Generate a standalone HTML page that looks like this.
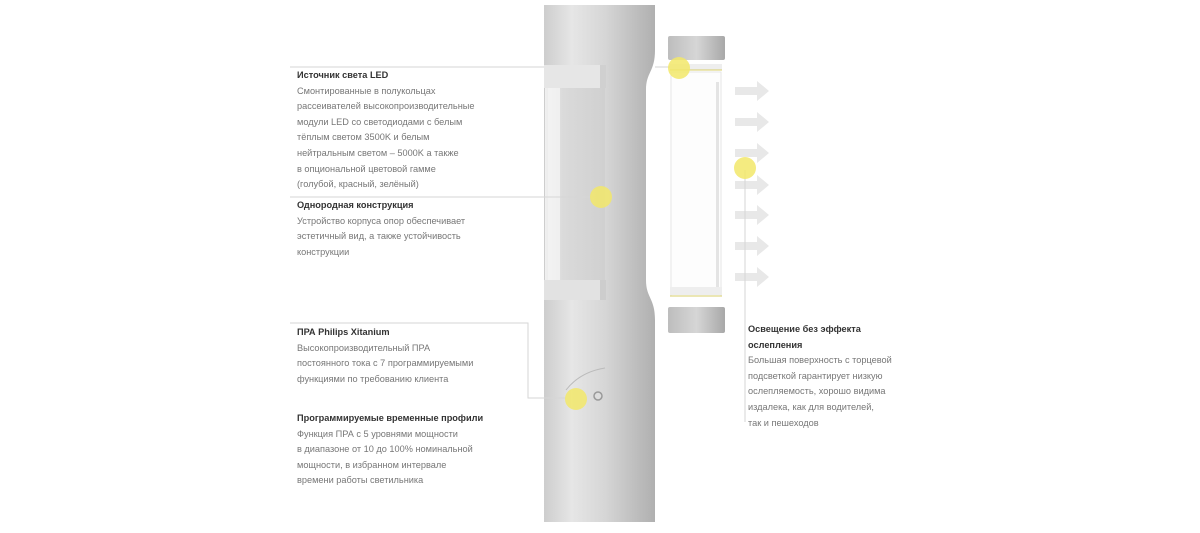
<!DOCTYPE html>
<html><head><meta charset="utf-8"><style>
html,body{margin:0;padding:0;background:#fff;width:1200px;height:533px;overflow:hidden;position:relative;font-family:"Liberation Sans","DejaVu Sans",sans-serif}
.t{position:absolute;font-size:9.2px;line-height:15.6px;color:#777;white-space:nowrap}
.t b{color:#333;font-weight:bold}
svg{position:absolute;left:0;top:0}
</style></head><body>
<svg width="1200" height="533" viewBox="0 0 1200 533">
<defs>
<linearGradient id="pole" x1="0" x2="1">
<stop offset="0" stop-color="#cdcdcd"/><stop offset="0.25" stop-color="#e6e6e6"/><stop offset="0.55" stop-color="#d6d6d6"/><stop offset="0.85" stop-color="#bcbcbc"/><stop offset="1" stop-color="#b0b0b0"/>
</linearGradient>
<linearGradient id="cap" x1="0" x2="1">
<stop offset="0" stop-color="#bdbdbd"/><stop offset="0.5" stop-color="#d6d6d6"/><stop offset="1" stop-color="#a8a8a8"/>
</linearGradient>
<linearGradient id="win" x1="0" x2="1">
<stop offset="0" stop-color="#f0f0f0"/><stop offset="0.3" stop-color="#dadada"/><stop offset="1" stop-color="#d0d0d0"/>
</linearGradient>
</defs>
<path d="M546 5 L655 5 L655 50 C655 72 646 72 646 90 L646 280 C646 298 655 298 655 320 L655 522 L544 522 L544 5 Z" fill="url(#pole)"/>
<rect x="544" y="65" width="56" height="23" fill="#e6e6e6"/>
<rect x="600" y="65" width="6" height="23" fill="#d0d0d0"/>
<rect x="545" y="88" width="60" height="194" fill="url(#win)"/>
<rect x="548" y="88" width="12" height="194" fill="#f4f4f4" opacity="0.8"/>
<rect x="544" y="280" width="56" height="20" fill="#e2e2e2"/>
<rect x="600" y="280" width="6" height="20" fill="#cdcdcd"/>
<path d="M566 390 Q580 372 605 368" stroke="#bbb" fill="none"/>
<circle cx="598" cy="396" r="4" fill="#ddd" stroke="#999" stroke-width="1.5"/>
<rect x="668" y="36" width="57" height="24" rx="2" fill="url(#cap)"/>
<rect x="670" y="64" width="52" height="6" fill="#eee"/>
<line x1="670" y1="70" x2="722" y2="70" stroke="#d8cf6a" stroke-width="1"/>
<rect x="671" y="72" width="50" height="224" fill="#fdfdfd" stroke="#e6e6e6"/>
<rect x="716" y="82" width="3" height="205" fill="#e4e4e4"/>
<rect x="670" y="287" width="52" height="8" fill="#eee"/>
<line x1="670" y1="296" x2="722" y2="296" stroke="#d8cf6a" stroke-width="1"/>
<rect x="668" y="307" width="57" height="26" rx="2" fill="url(#cap)"/>
<g fill="#e8e8e8">
<path d="M735 87h22v-6l12 10l-12 10v-6h-22z"/>
<path d="M735 118h22v-6l12 10l-12 10v-6h-22z"/>
<path d="M735 149h22v-6l12 10l-12 10v-6h-22z"/>
<path d="M735 181h22v-6l12 10l-12 10v-6h-22z"/>
<path d="M735 211h22v-6l12 10l-12 10v-6h-22z"/>
<path d="M735 242h22v-6l12 10l-12 10v-6h-22z"/>
<path d="M735 273h22v-6l12 10l-12 10v-6h-22z"/>
</g>
<g stroke="#d6d6d6" stroke-width="1" fill="none">
<line x1="290" y1="67" x2="544" y2="67"/>
<line x1="655" y1="67" x2="670" y2="67"/>
<line x1="290" y1="197" x2="592" y2="197"/>
<polyline points="290,323 528,323 528,398 566,398"/>
<line x1="745" y1="170" x2="745" y2="422"/>
</g>
<g fill="#f2e86a" opacity="0.85">
<circle cx="679" cy="68" r="11"/>
<circle cx="745" cy="168" r="11"/>
<circle cx="601" cy="197" r="11"/>
<circle cx="576" cy="399" r="11"/>
</g>
</svg>
<div class="t" style="left:297px;top:68px"><b>Источник света LED</b><br>Смонтированные в полукольцах<br>рассеивателей высокопроизводительные<br>модули LED со светодиодами с белым<br>тёплым светом 3500K и белым<br>нейтральным светом – 5000K а также<br>в опциональной цветовой гамме<br>(голубой, красный, зелёный)</div>
<div class="t" style="left:297px;top:198px"><b>Однородная конструкция</b><br>Устройство корпуса опор обеспечивает<br>эстетичный вид, а также устойчивость<br>конструкции</div>
<div class="t" style="left:297px;top:325px"><b>ПРА Philips Xitanium</b><br>Высокопроизводительный ПРА<br>постоянного тока с 7 программируемыми<br>функциями по требованию клиента</div>
<div class="t" style="left:297px;top:411px"><b>Программируемые временные профили</b><br>Функция ПРА с 5 уровнями мощности<br>в диапазоне от 10 до 100% номинальной<br>мощности, в избранном интервале<br>времени работы светильника</div>
<div class="t" style="left:748px;top:322px"><b>Освещение без эффекта<br>ослепления</b><br>Большая поверхность с торцевой<br>подсветкой гарантирует низкую<br>ослепляемость, хорошо видима<br>издалека, как для водителей,<br>так и пешеходов</div>
</body></html>
